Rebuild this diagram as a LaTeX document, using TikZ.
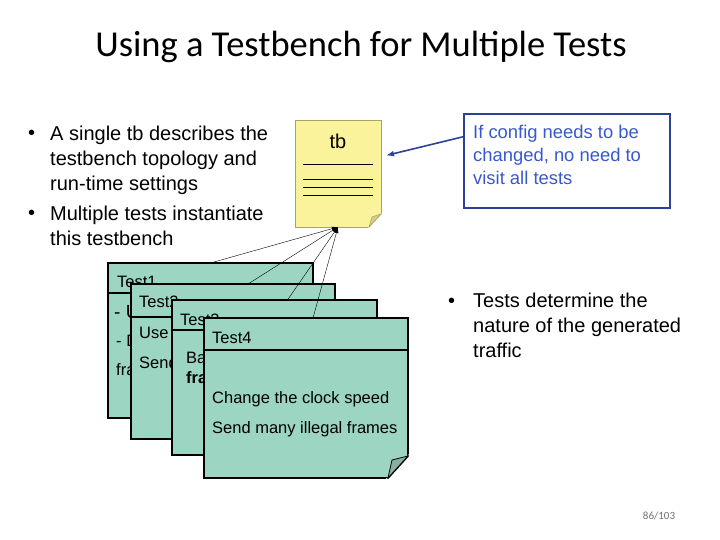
\documentclass[tikz,border=0pt]{standalone}
\usepackage{fontspec}
\setmainfont{Liberation Sans}
\newfontfamily\titlefont{Carlito}
\usetikzlibrary{calc,arrows.meta}

\begin{document}
\begin{tikzpicture}[x=1pt,y=-1pt]

\definecolor{cNote}{HTML}{FAF39C}
\definecolor{cNoteEdge}{HTML}{A8A36A}
\definecolor{cNoteFold}{HTML}{D6CD88}
\definecolor{cCard}{HTML}{9CD5C1}
\definecolor{cCardFold}{HTML}{88AFA3}
\definecolor{cCfg}{HTML}{2B4296}
\definecolor{cCfgText}{HTML}{3858CC}

\tikzset{
  card/.style      = {draw=black, line width=1.8pt, fill=cCard, anchor=north west,
                      minimum width=205pt, minimum height=155pt, inner sep=0pt, outer sep=0pt},
  cardhead/.style  = {font=\fontsize{16.5}{20}\selectfont, anchor=base west, inner sep=0pt},
  cardtext/.style  = {font=\fontsize{16.5}{20}\selectfont, anchor=base west, inner sep=0pt},
  headline/.style  = {line width=2.4pt},
  bullet/.style    = {font=\fontsize{20}{25}\selectfont, anchor=base west, inner sep=0pt},
  bullettext/.style= {font=\fontsize{20}{25}\selectfont, align=left, anchor=north west, inner sep=0pt},
  link/.style      = {thin, -{Latex[length=6pt,width=4pt]}},
}

\useasboundingbox (0,0) rectangle (720,540);

%% ---------- title ----------
\node[font=\titlefont\fontsize{36.5}{41}\selectfont, anchor=base] (title) at (361,57)
  {Using a Testbench for Multiple Tests};

%% ---------- bullets, left ----------
\node[bullet] (b1) at (28,140) {•};
\node[bullettext] (b1t) at (50,125.5) {A single tb describes the\\testbench topology and\\run-time settings};
\node[bullet] (b2) at (28,220) {•};
\node[bullettext] (b2t) at (50,205.5) {Multiple tests instantiate\\this testbench};

%% ---------- the tb note ----------
\node[card, fill=cNote, draw=cNoteEdge, line width=0.8pt,
      minimum width=86pt, minimum height=107pt] (tb) at (295,120) {};
\node[font=\fontsize{20}{24}\selectfont, anchor=base, inner sep=0pt] (tbname) at (338,149) {tb};
\draw[thin] ($(tb.north west)+(8,44)$) -- ($(tb.north east)+(-8,44)$);
\foreach \dy in {59,67,75}
  \draw[thin] ($(tb.north west)+(8,\dy)$) -- ($(tb.north east)+(-8,\dy)$);
% folded corner
\fill[white] ($(tb.south east)+(1,-14)$) -- ($(tb.south east)+(1,1)$) -- ($(tb.south east)+(-13,1)$) -- cycle;
\draw[cNoteEdge, line width=0.8pt] ($(tb.south east)+(0,-13)$) -- ($(tb.south east)+(-12,0)$);
\filldraw[fill=cNoteFold, draw=cNoteEdge, line width=0.5pt]
  ($(tb.south east)+(0,-13)$) -- ($(tb.south east)+(-12,0)$) -- ($(tb.south east)+(-9,-10)$) -- cycle;

%% ---------- config box, right ----------
\node[draw=cCfg, line width=1.6pt, minimum width=206pt, minimum height=94pt,
      anchor=north west, inner sep=0pt] (cfg) at (463,113) {};
\node[font=\fontsize{18.4}{23}\selectfont, text=cCfgText, align=left, anchor=north west,
      inner sep=0pt] (cfgtxt) at (473,125) {If config needs to be\\changed, no need to\\visit all tests};
\draw[cCfg, line width=1.6pt, -{Latex[length=8pt,width=6pt]}]
  ([yshift=24pt]cfg.west) -- ([xshift=5pt,yshift=18pt]tb.east);

%% ---------- bullet, right ----------
\node[bullet] (b3) at (448,307) {•};
\node[bullettext] (b3t) at (473,292.5) {Tests determine the\\nature of the generated\\traffic};

%% ---------- the tests ----------
\node[card] (t1) at (108,263) {};
\draw[headline] ($(t1.north west)+(0,30)$) -- ($(t1.north east)+(0,30)$);
\node[cardhead] (t1h) at (117,287) {Test1};
\node[cardtext, font=\fontsize{19}{22}\selectfont] (t1a) at (114,318) {- Use};
\node[cardtext] (t1b) at (116,346) {- Do};
\node[cardtext] (t1c) at (116,375) {frames};

\node[card, minimum width=204pt] (t2) at (131,284) {};
\draw[headline] ($(t2.north west)+(0,33)$) -- ($(t2.north east)+(0,33)$);
\node[cardhead] (t2h) at (139,307) {Test2};
\node[cardtext] (t2a) at (139,338) {Use};
\node[cardtext] (t2b) at (139,368) {Send};

\node[card] (t3) at (172,300) {};
\draw[headline] ($(t3.north west)+(0,30)$) -- ($(t3.north east)+(0,30)$);
\node[cardhead] (t3h) at (180,325) {Test3};
\node[cardtext] (t3a) at (186,363) {Bad};
\node[cardtext, font=\fontsize{16.5}{20}\selectfont\bfseries] (t3b) at (186,383) {frames};

\node[card, minimum width=204pt, minimum height=160pt] (t4) at (204,318) {};
\draw[headline] ($(t4.north west)+(0,32)$) -- ($(t4.north east)+(0,32)$);
\node[cardhead] (t4h) at (212,343) {Test4};
\node[cardtext] (t4a) at (212,403) {Change the clock speed};
\node[cardtext] (t4b) at (212,433) {Send many illegal frames};
% folded corner
\fill[white] ($(t4.south east)+(2,-25)$) -- ($(t4.south east)+(2,2)$) -- ($(t4.south east)+(-23,2)$) -- cycle;
\draw[line width=1.8pt, line cap=round] ($(t4.south east)+(0,-22)$) -- ($(t4.south east)+(-20,0)$);
\filldraw[fill=cCardFold, draw=black, line width=0.8pt]
  ($(t4.south east)+(0,-22)$) -- ($(t4.south east)+(-20,0)$) -- ($(t4.south east)+(-16,-18)$) -- cycle;

%% ---------- tests to tb ----------
\draw[link] (t1.north) -- (tb.south);
\draw[link] ([xshift=15pt]t2.north) -- (tb.south);
\draw[link] ([xshift=13pt]t3.north) -- (tb.south);
\draw[link] ([xshift=7pt]t4.north) -- (tb.south);

%% ---------- page ----------
\node[font=\titlefont\fontsize{11}{13}\selectfont, text=black!55, anchor=base] (page) at (659,519) {86/103};

\end{tikzpicture}
\end{document}
